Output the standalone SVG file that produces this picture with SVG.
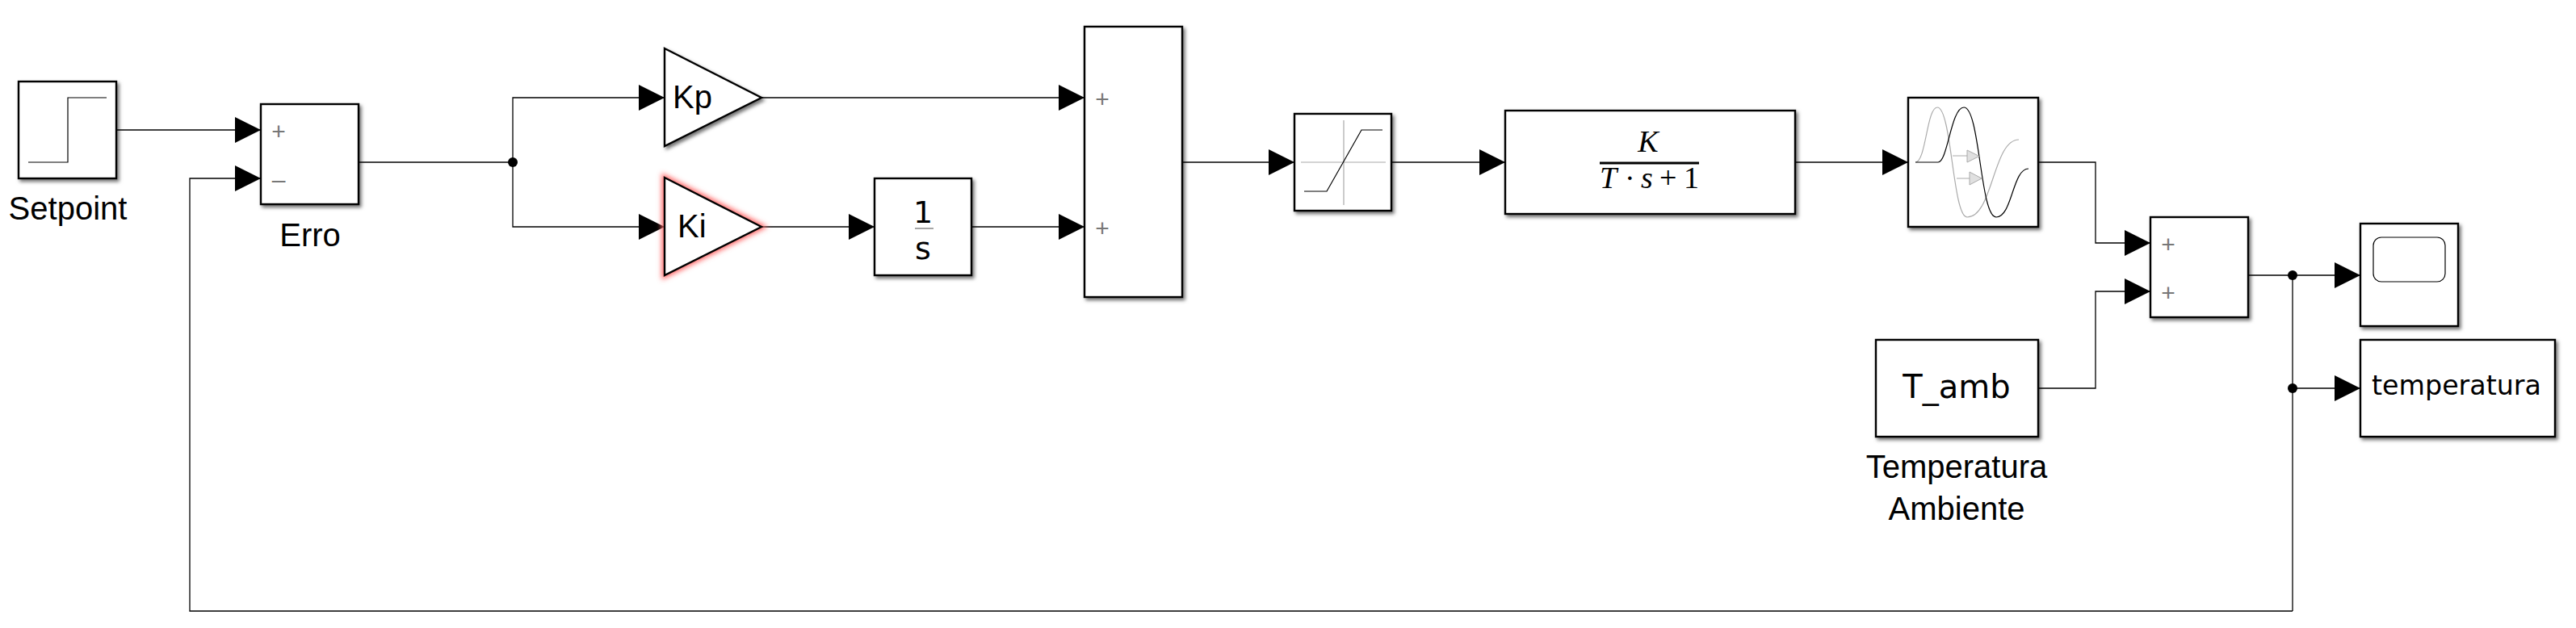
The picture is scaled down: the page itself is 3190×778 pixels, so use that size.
<svg xmlns="http://www.w3.org/2000/svg" width="3190" height="778" viewBox="0 0 3190 778">
<style>
.b{fill:#fff;stroke:#000;stroke-width:2.4;filter:url(#sh)}
.w{fill:none;stroke:#000;stroke-width:1.3}
.i{fill:none;stroke:#000;stroke-width:1.2}
.g{fill:none;stroke:#aaa;stroke-width:1.2}
.l{font-family:"Liberation Sans",Arial,sans-serif;font-size:40px;fill:#000}
.d{font-family:"DejaVu Sans",sans-serif;fill:#000}
.m{font-family:"Liberation Serif","Times New Roman",serif;font-size:38px;fill:#000}
.s{font-family:"Liberation Sans",Arial,sans-serif;font-size:30px;fill:#777;text-anchor:middle}
.c{text-anchor:middle}
</style>
<defs>
<filter id="sh" x="-10%" y="-10%" width="125%" height="125%"><feDropShadow dx="2.5" dy="3" stdDeviation="2" flood-color="#000" flood-opacity="0.55"/></filter>
<filter id="rd" x="-20%" y="-20%" width="140%" height="140%"><feGaussianBlur stdDeviation="3"/></filter>
<marker id="a" markerUnits="userSpaceOnUse" markerWidth="32" markerHeight="32" refX="32" refY="16" orient="auto" viewBox="0 0 32 32"><path d="M0 0L32 16L0 32Z" fill="#000"/></marker>
</defs>
<g id="connectors">
<path class="w" marker-end="url(#a)" d="M144 161H323"/>
<path class="w" marker-end="url(#a)" d="M2839 757H235V221H323"/>
<path class="w" d="M444 201H635"/>
<path class="w" marker-end="url(#a)" d="M635 201V121H823"/>
<path class="w" marker-end="url(#a)" d="M635 201V281H823"/>
<path class="w" marker-end="url(#a)" d="M943 121H1343"/>
<path class="w" marker-end="url(#a)" d="M943 281H1083"/>
<path class="w" marker-end="url(#a)" d="M1203 281H1343"/>
<path class="w" marker-end="url(#a)" d="M1464 201H1603"/>
<path class="w" marker-end="url(#a)" d="M1723 201H1864"/>
<path class="w" marker-end="url(#a)" d="M2223 201H2363"/>
<path class="w" marker-end="url(#a)" d="M2524 201H2595V301H2663"/>
<path class="w" marker-end="url(#a)" d="M2524 481H2595V361H2663"/>
<path class="w" marker-end="url(#a)" d="M2784 341H2923"/>
<path class="w" marker-end="url(#a)" d="M2839 481H2923"/>
<path class="w" d="M2839 341V757"/>
<circle cx="635" cy="201" r="6"/>
<circle cx="2839" cy="341" r="6"/>
<circle cx="2839" cy="481" r="6"/>
</g>
<g id="setpoint">
<rect class="b" x="23" y="101" width="121" height="120"/>
<path class="i" d="M35 201H84V121H132"/>
<text class="l c" x="84" y="272">Setpoint</text>
</g>
<g id="erro">
<rect class="b" x="323" y="129" width="121" height="124"/>
<text class="s" x="345" y="173">+</text>
<text class="s" x="345" y="233">–</text>
<text class="l c" x="384" y="305">Erro</text>
</g>
<g id="kp">
<path class="b" d="M823 60L943 121L823 181Z"/>
<text class="l" x="833" y="134">Kp</text>
</g>
<g id="ki">
<path d="M823 220L943 281L823 341Z" fill="#f66" stroke="#f66" stroke-width="7" filter="url(#rd)"/>
<path class="b" d="M823 220L943 281L823 341Z" style="filter:none"/>
<text class="l" x="839" y="294">Ki</text>
</g>
<g id="integrator">
<rect class="b" x="1083" y="221" width="120" height="120"/>
<text class="d c" font-size="38" x="1143" y="276">1</text>
<path d="M1133 283H1156" stroke="#888" stroke-width="1.5"/>
<text class="d c" font-size="38" x="1143" y="321">s</text>
</g>
<g id="sum2">
<rect class="b" x="1343" y="33" width="121" height="335"/>
<text class="s" x="1365" y="133">+</text>
<text class="s" x="1365" y="293">+</text>
</g>
<g id="saturation">
<rect class="b" x="1603" y="141" width="120" height="120"/>
<path class="g" d="M1664 149V254M1611 201H1716"/>
<path class="i" d="M1615 237H1643L1686 161H1712"/>
</g>
<g id="plant">
<rect class="b" x="1864" y="137" width="359" height="128"/>
<text class="m c" font-style="italic" x="2041" y="188">K</text>
<path d="M1981 202H2104" stroke="#000" stroke-width="3"/>
<text class="m" y="233"><tspan x="1981" font-style="italic">T</tspan><tspan x="2012">·</tspan><tspan x="2032" font-style="italic">s</tspan><tspan x="2055">+</tspan><tspan x="2085">1</tspan></text>
</g>
<g id="delay">
<rect class="b" x="2363" y="121" width="161" height="160"/>
<path class="g" d="M2372 201C2385 201 2386 133 2399 133C2417 133 2418 269 2436 269C2468 269 2468 173 2500 173"/>
<path class="i" d="M2372 201H2400C2412 201 2416 133 2432 133C2452 133 2452 269 2472 269C2492 269 2492 209 2512 209"/>
<path class="g" d="M2418 193H2436M2423 221H2439"/>
<path d="M2436 186L2451 193.500L2436 201ZM2439 213L2454 221L2439 229Z" fill="#e0e0e0" stroke="#aaa" stroke-width="1"/>
</g>
<g id="sum3">
<rect class="b" x="2663" y="269" width="121" height="124"/>
<text class="s" x="2685" y="313">+</text>
<text class="s" x="2685" y="373">+</text>
</g>
<g id="scope">
<rect class="b" x="2923" y="277" width="121" height="127"/>
<rect x="2939" y="294" width="89" height="55" rx="10" fill="none" stroke="#000" stroke-width="1.2"/>
</g>
<g id="temperatura">
<rect class="b" x="2923" y="421" width="241" height="120"/>
<text class="d c" font-size="33.300" x="3042" y="489">temperatura</text>
</g>
<g id="tamb">
<rect class="b" x="2323" y="421" width="201" height="120"/>
<text class="d c" font-size="40" x="2423" y="493">T_amb</text>
<text class="l c" x="2423" y="592">Temperatura</text>
<text class="l c" x="2423" y="644">Ambiente</text>
</g>
</svg>
